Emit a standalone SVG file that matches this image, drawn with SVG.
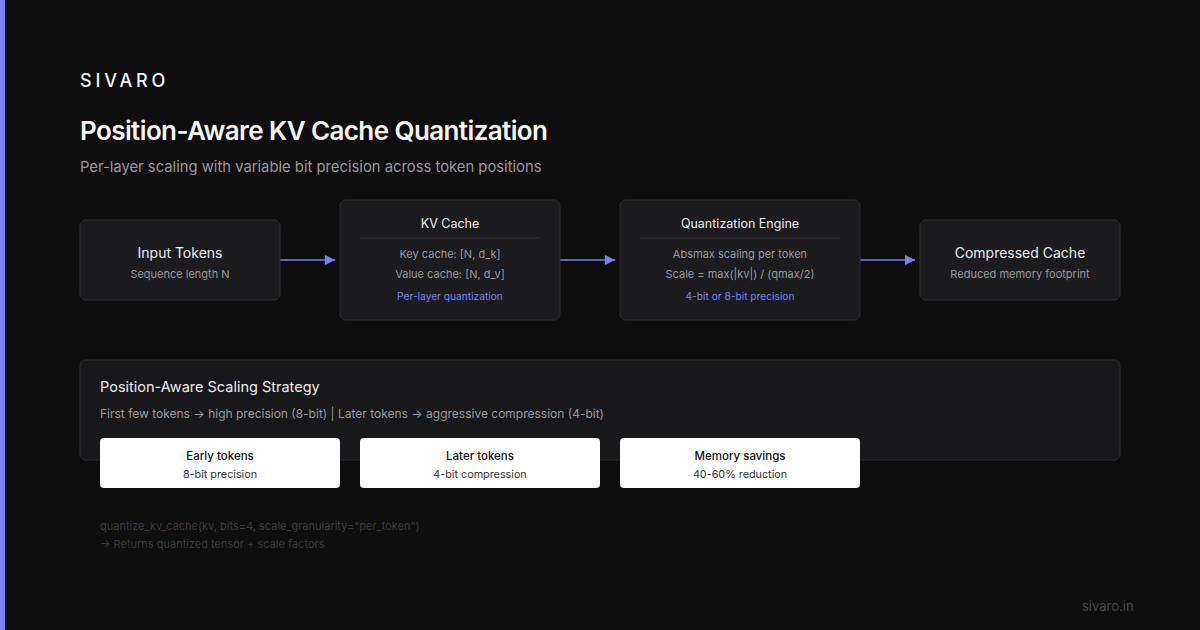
<svg xmlns="http://www.w3.org/2000/svg" width="1200" height="630" viewBox="0 0 1200 630">
<defs>
<style>
.t{font-family:Inter,"Liberation Sans",sans-serif}
.box{fill:#1c1c1f;stroke:#2f2f32;stroke-width:1}
.nt{font-size:14px;fill:#ececec;text-anchor:middle}
.nh{font-size:12.5px;fill:#ececec;text-anchor:middle}
.ns{font-size:11px;fill:#9a9a9e;text-anchor:middle}
.acc{font-size:10.2px;fill:#7b80f2;text-anchor:middle}
.div{stroke:#2f2f32;stroke-width:1}
.card{fill:#ffffff}
.ct{font-size:11.5px;font-weight:500;fill:#111;text-anchor:middle}
.cs{font-size:10.8px;fill:#333;text-anchor:middle}
.code{font-size:11px;fill:#3c3c3e}
.conn{stroke:#7b80f2;stroke-width:1.5;fill:none}
</style>
<marker id="ah" viewBox="0 0 10 10" refX="10" refY="5" markerWidth="10" markerHeight="10" markerUnits="userSpaceOnUse" orient="auto">
<path d="M0,0 L10,5 L0,10 z" fill="#7b80f2"/>
</marker>
</defs>
<rect width="1200" height="630" fill="#0e0e0f"/>
<rect x="0" y="0" width="5" height="630" fill="#7b80f2"/>
<g class="t">
<text x="80" y="87" font-size="18" font-weight="500" fill="#f2f2f2" letter-spacing="3.8">SIVARO</text>
<text x="80" y="140" font-size="26" font-weight="600" fill="#f5f5f5" letter-spacing="-0.6">Position-Aware KV Cache Quantization</text>
<text x="80" y="172" font-size="14.8" fill="#9a9a9e">Per-layer scaling with variable bit precision across token positions</text>
</g>
<g id="connectors">
<line class="conn" x1="280" y1="260" x2="335" y2="260" marker-end="url(#ah)"/>
<line class="conn" x1="560" y1="260" x2="615" y2="260" marker-end="url(#ah)"/>
<line class="conn" x1="860" y1="260" x2="915" y2="260" marker-end="url(#ah)"/>
</g>
<g id="input-tokens" class="t">
<rect class="box" x="80" y="220" width="200" height="80" rx="6"/>
<text class="nt" x="180" y="258">Input Tokens</text>
<text class="ns" x="180" y="278">Sequence length N</text>
</g>
<g id="kv-cache" class="t">
<rect class="box" x="340" y="200" width="220" height="120" rx="6"/>
<text class="nh" x="450" y="228">KV Cache</text>
<line class="div" x1="360" y1="238" x2="540" y2="238"/>
<text class="ns" x="450" y="258">Key cache: [N, d_k]</text>
<text class="ns" x="450" y="278">Value cache: [N, d_v]</text>
<text class="acc" x="450" y="300">Per-layer quantization</text>
</g>
<g id="quant-engine" class="t">
<rect class="box" x="620" y="200" width="240" height="120" rx="6"/>
<text class="nh" x="740" y="228">Quantization Engine</text>
<line class="div" x1="640" y1="238" x2="840" y2="238"/>
<text class="ns" x="740" y="258">Absmax scaling per token</text>
<text class="ns" x="740" y="278">Scale = max(|kv|) / (qmax/2)</text>
<text class="acc" x="740" y="300">4-bit or 8-bit precision</text>
</g>
<g id="compressed-cache" class="t">
<rect class="box" x="920" y="220" width="200" height="80" rx="6"/>
<text class="nt" x="1020" y="258">Compressed Cache</text>
<text class="ns" x="1020" y="278">Reduced memory footprint</text>
</g>
<g id="strategy" class="t">
<rect x="80" y="360" width="1040" height="100" rx="6" fill="#18181a" stroke="#2f2f32"/>
<text x="100" y="392" font-size="14.5" fill="#ececec">Position-Aware Scaling Strategy</text>
<text x="100" y="418" font-size="12" fill="#9a9a9e">First few tokens → high precision (8-bit) | Later tokens → aggressive compression (4-bit)</text>
</g>
<g id="early-tokens" class="t">
<rect class="card" x="100" y="438" width="240" height="50" rx="4"/>
<text class="ct" x="220" y="460">Early tokens</text>
<text class="cs" x="220" y="478">8-bit precision</text>
</g>
<g id="later-tokens" class="t">
<rect class="card" x="360" y="438" width="240" height="50" rx="4"/>
<text class="ct" x="480" y="460">Later tokens</text>
<text class="cs" x="480" y="478">4-bit compression</text>
</g>
<g id="memory-savings" class="t">
<rect class="card" x="620" y="438" width="240" height="50" rx="4"/>
<text class="ct" x="740" y="460">Memory savings</text>
<text class="cs" x="740" y="478">40-60% reduction</text>
</g>
<g class="t">
<text class="code" x="100" y="530">quantize_kv_cache(kv, bits=4, scale_granularity="per_token")</text>
<text class="code" x="100" y="548">→ Returns quantized tensor + scale factors</text>
<text x="1082" y="611" font-size="13" fill="#46464a">sivaro.in</text>
</g>
</svg>
